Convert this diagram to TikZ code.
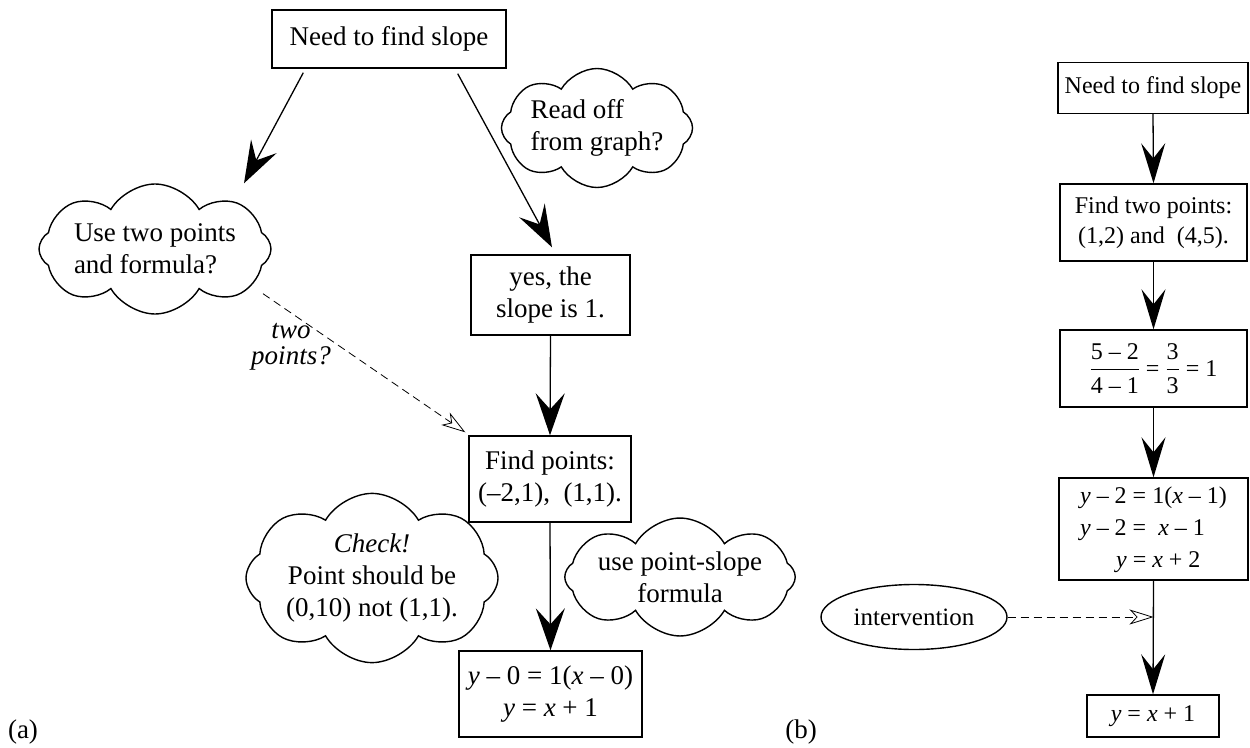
\documentclass[tikz,border=0pt]{standalone}
\usepackage{amsmath}
\usepackage{fontspec}
\setmainfont{Liberation Serif}
\usetikzlibrary{shapes.symbols,shapes.geometric,arrows.meta,calc}
\begin{document}
\begin{tikzpicture}[x=1pt,y=-1pt,
  fa/.style={font=\fontsize{27}{32}\selectfont},
  fb/.style={font=\fontsize{24}{30}\selectfont},
  box/.style={draw,line width=1.4pt,inner sep=0pt,align=center},
  thought/.style={draw,cloud,cloud puffs=8,cloud puff arc=120,cloud ignores aspect,line width=1.4pt,inner sep=0pt,fa},
  biga/.style={line width=1.3pt,-{Stealth[length=42pt,width=29pt,inset=16pt]}},
  bigb/.style={line width=1.3pt,-{Stealth[length=40pt,width=24pt,inset=15pt]}},
  hint/.style={line width=0.8pt,dash pattern=on 8pt off 5pt,-{Stealth[open,length=24pt,width=15pt,inset=7pt]}},
]
\useasboundingbox (0,0) rectangle (1250,747);

% ---------- (a) ----------
\node[box,fa,minimum width=234pt,minimum height=58pt] (na1) at (389,39) {Need to find slope};
\node[thought,align=left,minimum width=232pt,minimum height=130pt] (c1) at (155,249) {Use two points\\and formula?};
\node[thought,align=left,minimum width=173pt,minimum height=119pt] (c2) at (597,128) {Read off\\from graph?};
\node[box,fa,minimum width=159pt,minimum height=80pt] (yes) at (550.5,295) {yes, the\\slope is 1.};
\node[box,fa,minimum width=162pt,minimum height=86pt] (fp) at (550,479) {Find points:\\(–2,1),\ \ (1,1).};
\node[thought,align=center,minimum width=243pt,minimum height=155pt] (c3) at (372,578) {\textit{Check!}\\Point should be\\(0,10) not (1,1).};
\node[thought,align=center,minimum width=212pt,minimum height=107pt] (c4) at (680,577) {use point-slope\\formula};
\node[box,fa,minimum width=183pt,minimum height=86pt] (res) at (550.5,694) {\textit{y} – 0 = 1(\textit{x} – 0)\\\textit{y} = \textit{x} + 1};
\node[fa,align=center,font=\fontsize{27}{26}\itshape] (lbl) at (291,347) {two\\points?};
\node[fa,anchor=base] (la) at (23,738) {(a)};

\draw[biga] ([xshift=32pt,yshift=-4pt]na1.south west) -- ([xshift=89pt]c1.north);
\draw[biga] ([xshift=-49pt,yshift=-5pt]na1.south east) -- ([xshift=1.5pt,yshift=7pt]yes.north);
\draw[biga] (yes.south) -- (fp.north);
\draw[biga] (fp.south) -- (res.north);
\draw[hint] ([xshift=108pt,yshift=21pt]c1.south) -- ([xshift=-3pt,yshift=3pt]fp.north west);

% ---------- (b) ----------
\node[box,fb,minimum width=190pt,minimum height=51pt] (nb1) at (1153,88) {Need to find slope};
\node[box,fb,minimum width=187pt,minimum height=77pt] (ftp) at (1153.5,222.5) {Find two points:\\(1,2) and\ \ (4,5).};
\node[box,fb,minimum width=187pt,minimum height=77pt] (frac) at (1153.5,368.5) {$\dfrac{\text{5 – 2}}{\text{4 – 1}}\text{ = }\dfrac{\text{3}}{\text{3}}\text{ = 1}$};
\node[box,font=\fontsize{24}{32}\selectfont,minimum width=189pt,minimum height=102pt] (eqs) at (1153.5,529)
  {\renewcommand{\arraystretch}{1}\begin{tabular}{@{}r@{ }l@{}}\textit{y} – 2 & = 1(\textit{x} – 1)\\ \textit{y} – 2 & = \ \textit{x} – 1\\ \textit{y} & = \textit{x} + 2\end{tabular}};
\node[box,fb,minimum width=132pt,minimum height=42pt] (fin) at (1153,716) {\textit{y} = \textit{x} + 1};
\node[draw,ellipse,line width=1.4pt,inner sep=0pt,minimum width=186pt,minimum height=65pt,font=\fontsize{25}{30}\selectfont] (int) at (914,617) {intervention};
\node[fa,anchor=base] (lb) at (801,738) {(b)};
\coordinate (j) at (eqs.south |- int.east);

\draw[bigb] (nb1.south) -- (ftp.north);
\draw[bigb] (ftp.south) -- (frac.north);
\draw[bigb] (frac.south) -- (eqs.north);
\draw[bigb] (eqs.south) -- (fin.north);
\draw[hint] (int.east) -- (j);
\end{tikzpicture}
\end{document}
